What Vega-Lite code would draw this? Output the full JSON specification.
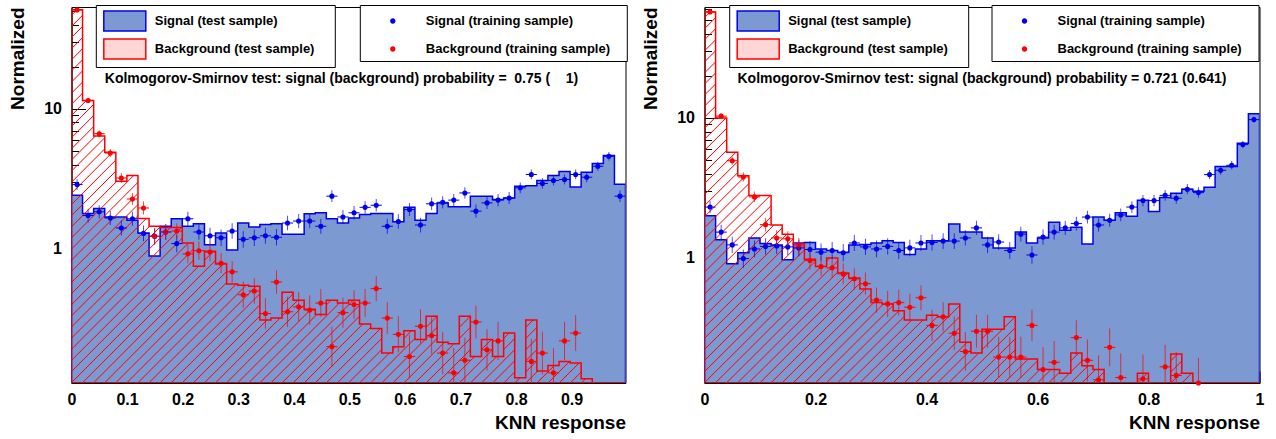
{
"$schema": "https://vega.github.io/schema/vega-lite/v6.json",
"background": "white",
"padding": {"left": 7.5, "top": 4, "right": 0, "bottom": 0},
"spacing": 12,
"datasets": {
"L": [
{"a":0,"b":0.0199,"c":0.01,"st":2.42,"bt":51.2,"sp":2.88,"bp":51},
{"a":0.0199,"b":0.0399,"c":0.0299,"st":1.79,"bt":11.5,"sp":1.73,"bp":11.5},
{"a":0.0399,"b":0.0598,"c":0.0499,"st":1.94,"bt":6.41,"sp":1.84,"bp":6.65},
{"a":0.0598,"b":0.0798,"c":0.0698,"st":1.69,"bt":4.9,"sp":1.66,"bp":4.84},
{"a":0.0798,"b":0.0997,"c":0.0897,"st":1.69,"bt":3.04,"sp":1.41,"bp":3.21},
{"a":0.0997,"b":0.1196,"c":0.1097,"st":1.6,"bt":3.34,"sp":1.64,"bp":2.27},
{"a":0.1196,"b":0.1396,"c":0.1296,"st":1.3,"bt":1.65,"sp":1.29,"bp":1.96},
{"a":0.1396,"b":0.1595,"c":0.1496,"st":0.89,"bt":1.45,"sp":1.23,"bp":1.23},
{"a":0.1595,"b":0.1795,"c":0.1695,"st":1.45,"bt":1.42,"sp":1.32,"bp":1.32},
{"a":0.1795,"b":0.1994,"c":0.1894,"st":1.64,"bt":1.42,"sp":1.09,"bp":1.34},
{"a":0.1994,"b":0.2193,"c":0.2094,"st":1.45,"bt":1.1,"sp":1.64,"bp":0.92},
{"a":0.2193,"b":0.2393,"c":0.2293,"st":1.51,"bt":0.75,"sp":1.32,"bp":0.97},
{"a":0.2393,"b":0.2592,"c":0.2493,"st":1.07,"bt":0.96,"sp":1.24,"bp":0.95},
{"a":0.2592,"b":0.2792,"c":0.2692,"st":1.3,"bt":0.78,"sp":1.2,"bp":0.79},
{"a":0.2792,"b":0.2991,"c":0.2891,"st":0.98,"bt":0.56,"sp":1.34,"bp":0.685},
{"a":0.2991,"b":0.319,"c":0.3091,"st":1.53,"bt":0.55,"sp":1.17,"bp":0.47},
{"a":0.319,"b":0.339,"c":0.329,"st":1.43,"bt":0.54,"sp":1.2,"bp":0.5},
{"a":0.339,"b":0.3589,"c":0.349,"st":1.49,"bt":0.31,"sp":1.24,"bp":0.345},
{"a":0.3589,"b":0.3789,"c":0.3689,"st":1.51,"bt":0.32,"sp":1.21,"bp":0.58},
{"a":0.3789,"b":0.3988,"c":0.3888,"st":1.27,"bt":0.49,"sp":1.53,"bp":0.355},
{"a":0.3988,"b":0.4187,"c":0.4088,"st":1.27,"bt":0.43,"sp":1.58,"bp":0.385},
{"a":0.4187,"b":0.4387,"c":0.4287,"st":1.78,"bt":0.37,"sp":1.58,"bp":0.365},
{"a":0.4387,"b":0.4586,"c":0.4487,"st":1.81,"bt":0.34,"sp":1.45,"bp":0.41},
{"a":0.4586,"b":0.4786,"c":0.4686,"st":1.64,"bt":0.43,"sp":2.38,"bp":0.2},
{"a":0.4786,"b":0.4985,"c":0.4885,"st":1.53,"bt":0.41,"sp":1.69,"bp":0.35},
{"a":0.4985,"b":0.5184,"c":0.5085,"st":1.66,"bt":0.43,"sp":1.81,"bp":0.4},
{"a":0.5184,"b":0.5384,"c":0.5284,"st":1.76,"bt":0.29,"sp":1.98,"bp":0.41},
{"a":0.5384,"b":0.5583,"c":0.5484,"st":1.79,"bt":0.27,"sp":2.05,"bp":0.52},
{"a":0.5583,"b":0.5783,"c":0.5683,"st":1.79,"bt":0.18,"sp":1.45,"bp":0.32},
{"a":0.5783,"b":0.5982,"c":0.5882,"st":1.56,"bt":0.2,"sp":1.57,"bp":0.245},
{"a":0.5982,"b":0.6181,"c":0.6082,"st":1.98,"bt":0.26,"sp":1.91,"bp":0.17},
{"a":0.6181,"b":0.6381,"c":0.6281,"st":1.6,"bt":0.225,"sp":1.48,"bp":0.28},
{"a":0.6381,"b":0.658,"c":0.6481,"st":1.79,"bt":0.33,"sp":2.1,"bp":0.24},
{"a":0.658,"b":0.678,"c":0.668,"st":2.13,"bt":0.215,"sp":2.15,"bp":0.18},
{"a":0.678,"b":0.6979,"c":0.6879,"st":2.0,"bt":0.21,"sp":2.23,"bp":0.13},
{"a":0.6979,"b":0.7178,"c":0.7079,"st":2.0,"bt":0.33,"sp":2.51,"bp":0.16},
{"a":0.7178,"b":0.7378,"c":0.7278,"st":2.38,"bt":0.17,"sp":1.86,"bp":0.3},
{"a":0.7378,"b":0.7577,"c":0.7478,"st":2.38,"bt":0.225,"sp":2.13,"bp":0.19},
{"a":0.7577,"b":0.7777,"c":0.7677,"st":2.25,"bt":0.17,"sp":2.23,"bp":0.22},
{"a":0.7777,"b":0.7976,"c":0.7876,"st":2.31,"bt":0.25,"sp":2.31,"bp":null},
{"a":0.7976,"b":0.8175,"c":0.8076,"st":2.8,"bt":0.12,"sp":2.73,"bp":null},
{"a":0.8175,"b":0.8375,"c":0.8275,"st":2.83,"bt":0.31,"sp":3.4,"bp":0.157},
{"a":0.8375,"b":0.8574,"c":0.8475,"st":3.08,"bt":0.134,"sp":2.93,"bp":0.18},
{"a":0.8574,"b":0.8774,"c":0.8674,"st":3.34,"bt":0.147,"sp":3.08,"bp":0.13},
{"a":0.8774,"b":0.8973,"c":0.8873,"st":3.57,"bt":0.157,"sp":3.13,"bp":0.22},
{"a":0.8973,"b":0.9172,"c":0.9073,"st":2.77,"bt":0.153,"sp":3.4,"bp":0.25},
{"a":0.9172,"b":0.9372,"c":0.9272,"st":3.53,"bt":0.118,"sp":3.25,"bp":null},
{"a":0.9372,"b":0.9571,"c":0.9472,"st":4.07,"bt":0.001,"sp":3.89,"bp":null},
{"a":0.9571,"b":0.9771,"c":0.9671,"st":4.64,"bt":0.001,"sp":4.59,"bp":null},
{"a":0.9771,"b":0.997,"c":0.987,"st":2.9,"bt":0.001,"sp":2.38,"bp":null},
{"a":0.997,"st":2.9,"bt":0.001}
],
"R": [
{"a":0,"b":0.02,"c":0.01,"st":2.0,"bt":57,"sp":2.31,"bp":57.2},
{"a":0.02,"b":0.04,"c":0.03,"st":1.35,"bt":10.0,"sp":1.53,"bp":10.3},
{"a":0.04,"b":0.06,"c":0.05,"st":0.91,"bt":5.69,"sp":1.24,"bp":4.95},
{"a":0.06,"b":0.08,"c":0.07,"st":1.09,"bt":3.87,"sp":0.99,"bp":3.79},
{"a":0.08,"b":0.1,"c":0.09,"st":1.39,"bt":2.79,"sp":1.16,"bp":2.73},
{"a":0.1,"b":0.12,"c":0.11,"st":1.27,"bt":2.79,"sp":1.21,"bp":1.73},
{"a":0.12,"b":0.14,"c":0.13,"st":1.24,"bt":1.72,"sp":1.22,"bp":1.39},
{"a":0.14,"b":0.16,"c":0.15,"st":0.97,"bt":1.48,"sp":1.2,"bp":1.37},
{"a":0.16,"b":0.18,"c":0.17,"st":1.28,"bt":1.26,"sp":1.18,"bp":1.22},
{"a":0.18,"b":0.2,"c":0.19,"st":1.29,"bt":0.98,"sp":1.15,"bp":0.96},
{"a":0.2,"b":0.22,"c":0.21,"st":1.16,"bt":0.87,"sp":1.1,"bp":0.87},
{"a":0.22,"b":0.24,"c":0.23,"st":1.13,"bt":1.0,"sp":1.13,"bp":0.85},
{"a":0.24,"b":0.26,"c":0.25,"st":1.1,"bt":0.78,"sp":1.09,"bp":0.77},
{"a":0.26,"b":0.28,"c":0.27,"st":1.24,"bt":0.72,"sp":1.28,"bp":0.71},
{"a":0.28,"b":0.3,"c":0.29,"st":1.25,"bt":0.6,"sp":1.2,"bp":0.655},
{"a":0.3,"b":0.32,"c":0.31,"st":1.28,"bt":0.48,"sp":1.16,"bp":0.5},
{"a":0.32,"b":0.34,"c":0.33,"st":1.33,"bt":0.47,"sp":1.21,"bp":0.47},
{"a":0.34,"b":0.36,"c":0.35,"st":1.29,"bt":0.42,"sp":1.13,"bp":0.48},
{"a":0.36,"b":0.38,"c":0.37,"st":1.06,"bt":0.36,"sp":1.18,"bp":0.445},
{"a":0.38,"b":0.4,"c":0.39,"st":1.16,"bt":0.36,"sp":1.28,"bp":0.52},
{"a":0.4,"b":0.42,"c":0.41,"st":1.33,"bt":0.39,"sp":1.29,"bp":0.33},
{"a":0.42,"b":0.44,"c":0.43,"st":1.33,"bt":0.38,"sp":1.32,"bp":0.38},
{"a":0.44,"b":0.46,"c":0.45,"st":1.75,"bt":0.47,"sp":1.32,"bp":0.29},
{"a":0.46,"b":0.48,"c":0.47,"st":1.53,"bt":0.25,"sp":1.39,"bp":0.215},
{"a":0.48,"b":0.5,"c":0.49,"st":1.53,"bt":0.21,"sp":1.64,"bp":0.3},
{"a":0.5,"b":0.52,"c":0.51,"st":1.39,"bt":0.31,"sp":1.24,"bp":0.3},
{"a":0.52,"b":0.54,"c":0.53,"st":1.18,"bt":0.31,"sp":1.3,"bp":0.196},
{"a":0.54,"b":0.56,"c":0.55,"st":1.18,"bt":0.38,"sp":1.13,"bp":0.196},
{"a":0.56,"b":0.58,"c":0.57,"st":1.53,"bt":0.19,"sp":1.48,"bp":0.196},
{"a":0.58,"b":0.6,"c":0.59,"st":1.28,"bt":0.19,"sp":1.05,"bp":0.33},
{"a":0.6,"b":0.62,"c":0.61,"st":1.39,"bt":0.16,"sp":1.41,"bp":0.16},
{"a":0.62,"b":0.64,"c":0.63,"st":1.8,"bt":0.16,"sp":1.53,"bp":0.18},
{"a":0.64,"b":0.66,"c":0.65,"st":1.58,"bt":0.15,"sp":1.64,"bp":null},
{"a":0.66,"b":0.68,"c":0.67,"st":1.66,"bt":0.21,"sp":1.76,"bp":0.27},
{"a":0.68,"b":0.7,"c":0.69,"st":1.26,"bt":0.17,"sp":1.96,"bp":0.186},
{"a":0.7,"b":0.72,"c":0.71,"st":1.96,"bt":0.16,"sp":1.72,"bp":0.135},
{"a":0.72,"b":0.74,"c":0.73,"st":1.86,"bt":0.001,"sp":1.86,"bp":0.23},
{"a":0.74,"b":0.76,"c":0.75,"st":2.1,"bt":0.001,"sp":2.03,"bp":0.14},
{"a":0.76,"b":0.78,"c":0.77,"st":1.99,"bt":0.001,"sp":2.31,"bp":null},
{"a":0.78,"b":0.8,"c":0.79,"st":2.58,"bt":0.15,"sp":2.57,"bp":0.137},
{"a":0.8,"b":0.82,"c":0.81,"st":2.15,"bt":0.001,"sp":2.57,"bp":null},
{"a":0.82,"b":0.84,"c":0.83,"st":2.7,"bt":0.001,"sp":2.8,"bp":0.167},
{"a":0.84,"b":0.86,"c":0.85,"st":2.9,"bt":0.206,"sp":2.67,"bp":0.145},
{"a":0.86,"b":0.88,"c":0.87,"st":3.1,"bt":0.15,"sp":3.1,"bp":null},
{"a":0.88,"b":0.9,"c":0.89,"st":3.0,"bt":0.001,"sp":2.93,"bp":0.128},
{"a":0.9,"b":0.92,"c":0.91,"st":3.2,"bt":0.001,"sp":3.94,"bp":null},
{"a":0.92,"b":0.94,"c":0.93,"st":4.5,"bt":0.001,"sp":4.23,"bp":null},
{"a":0.94,"b":0.96,"c":0.95,"st":4.5,"bt":0.001,"sp":4.59,"bp":null},
{"a":0.96,"b":0.98,"c":0.97,"st":6.6,"bt":0.001,"sp":6.45,"bp":null},
{"a":0.98,"b":1,"c":0.99,"st":10.7,"bt":0.001,"sp":9.73,"bp":null},
{"a":1,"st":10.7,"bt":0.001}
]
},
"hconcat": [
{
"data": {"name": "L"},
"width": 554, "height": 376,
"title": {"text": "Kolmogorov-Smirnov test: signal (background) probability = \u00a00.75 (\u00a0\u00a0\u00a0 1)", "dx": 33.3, "dy": 85.7},
"layer": [
{"mark": {"type": "area", "interpolate": "step-after", "fill": "#7d99d1", "stroke": "#0000ee", "strokeWidth": 1.5, "clip": true},
 "encoding": {
  "x": {"field": "a", "type": "quantitative", "scale": {"domain": [0, 0.997], "nice": false, "zero": false},
        "axis": {"values": [0,0.1,0.2,0.3,0.4,0.5,0.6,0.7,0.8,0.9], "format": "~g", "tickSize": -12, "labelPadding": 20, "title": "KNN response", "titleAnchor": "end", "titlePadding": 6, "orient": "bottom"}},
  "y": {"field": "st", "type": "quantitative", "scale": {"type": "log", "domain": [0.11, 53.5], "nice": false, "clamp": true},
        "axis": {"values": [1, 10], "format": "~g", "tickSize": -14, "labelPadding": 24, "title": "Normalized", "titleAnchor": "end", "titlePadding": 16.2, "orient": "left"}}
 }},
{"mark": {"type": "area", "interpolate": "step-after", "stroke": "#ff0000", "strokeWidth": 1.5, "clip": true,
  "fill": {"gradient": "linear", "x1": 0, "y1": 0, "x2": 1.15, "y2": 0.772, "stops": [
{"offset":0.0049,"color":"rgba(255,0,0,0)"},{"offset":0.006,"color":"#ff0000"},{"offset":0.0071,"color":"rgba(255,0,0,0)"},
{"offset":0.0169,"color":"rgba(255,0,0,0)"},{"offset":0.018,"color":"#ff0000"},{"offset":0.0191,"color":"rgba(255,0,0,0)"},
{"offset":0.0289,"color":"rgba(255,0,0,0)"},{"offset":0.03,"color":"#ff0000"},{"offset":0.0311,"color":"rgba(255,0,0,0)"},
{"offset":0.0409,"color":"rgba(255,0,0,0)"},{"offset":0.042,"color":"#ff0000"},{"offset":0.0431,"color":"rgba(255,0,0,0)"},
{"offset":0.0529,"color":"rgba(255,0,0,0)"},{"offset":0.054,"color":"#ff0000"},{"offset":0.0551,"color":"rgba(255,0,0,0)"},
{"offset":0.0649,"color":"rgba(255,0,0,0)"},{"offset":0.066,"color":"#ff0000"},{"offset":0.0671,"color":"rgba(255,0,0,0)"},
{"offset":0.0769,"color":"rgba(255,0,0,0)"},{"offset":0.078,"color":"#ff0000"},{"offset":0.0791,"color":"rgba(255,0,0,0)"},
{"offset":0.0889,"color":"rgba(255,0,0,0)"},{"offset":0.09,"color":"#ff0000"},{"offset":0.0911,"color":"rgba(255,0,0,0)"},
{"offset":0.1009,"color":"rgba(255,0,0,0)"},{"offset":0.102,"color":"#ff0000"},{"offset":0.1031,"color":"rgba(255,0,0,0)"},
{"offset":0.1129,"color":"rgba(255,0,0,0)"},{"offset":0.114,"color":"#ff0000"},{"offset":0.1151,"color":"rgba(255,0,0,0)"},
{"offset":0.1249,"color":"rgba(255,0,0,0)"},{"offset":0.126,"color":"#ff0000"},{"offset":0.1271,"color":"rgba(255,0,0,0)"},
{"offset":0.1369,"color":"rgba(255,0,0,0)"},{"offset":0.138,"color":"#ff0000"},{"offset":0.1391,"color":"rgba(255,0,0,0)"},
{"offset":0.1489,"color":"rgba(255,0,0,0)"},{"offset":0.15,"color":"#ff0000"},{"offset":0.1511,"color":"rgba(255,0,0,0)"},
{"offset":0.1609,"color":"rgba(255,0,0,0)"},{"offset":0.162,"color":"#ff0000"},{"offset":0.1631,"color":"rgba(255,0,0,0)"},
{"offset":0.1729,"color":"rgba(255,0,0,0)"},{"offset":0.174,"color":"#ff0000"},{"offset":0.1751,"color":"rgba(255,0,0,0)"},
{"offset":0.1849,"color":"rgba(255,0,0,0)"},{"offset":0.186,"color":"#ff0000"},{"offset":0.1871,"color":"rgba(255,0,0,0)"},
{"offset":0.1969,"color":"rgba(255,0,0,0)"},{"offset":0.198,"color":"#ff0000"},{"offset":0.1991,"color":"rgba(255,0,0,0)"},
{"offset":0.2089,"color":"rgba(255,0,0,0)"},{"offset":0.21,"color":"#ff0000"},{"offset":0.2111,"color":"rgba(255,0,0,0)"},
{"offset":0.2209,"color":"rgba(255,0,0,0)"},{"offset":0.222,"color":"#ff0000"},{"offset":0.2231,"color":"rgba(255,0,0,0)"},
{"offset":0.2329,"color":"rgba(255,0,0,0)"},{"offset":0.234,"color":"#ff0000"},{"offset":0.2351,"color":"rgba(255,0,0,0)"},
{"offset":0.2449,"color":"rgba(255,0,0,0)"},{"offset":0.246,"color":"#ff0000"},{"offset":0.2471,"color":"rgba(255,0,0,0)"},
{"offset":0.2569,"color":"rgba(255,0,0,0)"},{"offset":0.258,"color":"#ff0000"},{"offset":0.2591,"color":"rgba(255,0,0,0)"},
{"offset":0.2689,"color":"rgba(255,0,0,0)"},{"offset":0.27,"color":"#ff0000"},{"offset":0.2711,"color":"rgba(255,0,0,0)"},
{"offset":0.2809,"color":"rgba(255,0,0,0)"},{"offset":0.282,"color":"#ff0000"},{"offset":0.2831,"color":"rgba(255,0,0,0)"},
{"offset":0.2929,"color":"rgba(255,0,0,0)"},{"offset":0.294,"color":"#ff0000"},{"offset":0.2951,"color":"rgba(255,0,0,0)"},
{"offset":0.3049,"color":"rgba(255,0,0,0)"},{"offset":0.306,"color":"#ff0000"},{"offset":0.3071,"color":"rgba(255,0,0,0)"},
{"offset":0.3169,"color":"rgba(255,0,0,0)"},{"offset":0.318,"color":"#ff0000"},{"offset":0.3191,"color":"rgba(255,0,0,0)"},
{"offset":0.3289,"color":"rgba(255,0,0,0)"},{"offset":0.33,"color":"#ff0000"},{"offset":0.3311,"color":"rgba(255,0,0,0)"},
{"offset":0.3409,"color":"rgba(255,0,0,0)"},{"offset":0.342,"color":"#ff0000"},{"offset":0.3431,"color":"rgba(255,0,0,0)"},
{"offset":0.3529,"color":"rgba(255,0,0,0)"},{"offset":0.354,"color":"#ff0000"},{"offset":0.3551,"color":"rgba(255,0,0,0)"},
{"offset":0.3649,"color":"rgba(255,0,0,0)"},{"offset":0.366,"color":"#ff0000"},{"offset":0.3671,"color":"rgba(255,0,0,0)"},
{"offset":0.3769,"color":"rgba(255,0,0,0)"},{"offset":0.378,"color":"#ff0000"},{"offset":0.3791,"color":"rgba(255,0,0,0)"},
{"offset":0.3889,"color":"rgba(255,0,0,0)"},{"offset":0.39,"color":"#ff0000"},{"offset":0.3911,"color":"rgba(255,0,0,0)"},
{"offset":0.4009,"color":"rgba(255,0,0,0)"},{"offset":0.402,"color":"#ff0000"},{"offset":0.4031,"color":"rgba(255,0,0,0)"},
{"offset":0.4129,"color":"rgba(255,0,0,0)"},{"offset":0.414,"color":"#ff0000"},{"offset":0.4151,"color":"rgba(255,0,0,0)"},
{"offset":0.4249,"color":"rgba(255,0,0,0)"},{"offset":0.426,"color":"#ff0000"},{"offset":0.4271,"color":"rgba(255,0,0,0)"},
{"offset":0.4369,"color":"rgba(255,0,0,0)"},{"offset":0.438,"color":"#ff0000"},{"offset":0.4391,"color":"rgba(255,0,0,0)"},
{"offset":0.4489,"color":"rgba(255,0,0,0)"},{"offset":0.45,"color":"#ff0000"},{"offset":0.4511,"color":"rgba(255,0,0,0)"},
{"offset":0.4609,"color":"rgba(255,0,0,0)"},{"offset":0.462,"color":"#ff0000"},{"offset":0.4631,"color":"rgba(255,0,0,0)"},
{"offset":0.4729,"color":"rgba(255,0,0,0)"},{"offset":0.474,"color":"#ff0000"},{"offset":0.4751,"color":"rgba(255,0,0,0)"},
{"offset":0.4849,"color":"rgba(255,0,0,0)"},{"offset":0.486,"color":"#ff0000"},{"offset":0.4871,"color":"rgba(255,0,0,0)"},
{"offset":0.4969,"color":"rgba(255,0,0,0)"},{"offset":0.498,"color":"#ff0000"},{"offset":0.4991,"color":"rgba(255,0,0,0)"},
{"offset":0.5089,"color":"rgba(255,0,0,0)"},{"offset":0.51,"color":"#ff0000"},{"offset":0.5111,"color":"rgba(255,0,0,0)"},
{"offset":0.5209,"color":"rgba(255,0,0,0)"},{"offset":0.522,"color":"#ff0000"},{"offset":0.5231,"color":"rgba(255,0,0,0)"},
{"offset":0.5329,"color":"rgba(255,0,0,0)"},{"offset":0.534,"color":"#ff0000"},{"offset":0.5351,"color":"rgba(255,0,0,0)"},
{"offset":0.5449,"color":"rgba(255,0,0,0)"},{"offset":0.546,"color":"#ff0000"},{"offset":0.5471,"color":"rgba(255,0,0,0)"},
{"offset":0.5569,"color":"rgba(255,0,0,0)"},{"offset":0.558,"color":"#ff0000"},{"offset":0.5591,"color":"rgba(255,0,0,0)"},
{"offset":0.5689,"color":"rgba(255,0,0,0)"},{"offset":0.57,"color":"#ff0000"},{"offset":0.5711,"color":"rgba(255,0,0,0)"},
{"offset":0.5809,"color":"rgba(255,0,0,0)"},{"offset":0.582,"color":"#ff0000"},{"offset":0.5831,"color":"rgba(255,0,0,0)"},
{"offset":0.5929,"color":"rgba(255,0,0,0)"},{"offset":0.594,"color":"#ff0000"},{"offset":0.5951,"color":"rgba(255,0,0,0)"},
{"offset":0.6049,"color":"rgba(255,0,0,0)"},{"offset":0.606,"color":"#ff0000"},{"offset":0.6071,"color":"rgba(255,0,0,0)"},
{"offset":0.6169,"color":"rgba(255,0,0,0)"},{"offset":0.618,"color":"#ff0000"},{"offset":0.6191,"color":"rgba(255,0,0,0)"},
{"offset":0.6289,"color":"rgba(255,0,0,0)"},{"offset":0.63,"color":"#ff0000"},{"offset":0.6311,"color":"rgba(255,0,0,0)"},
{"offset":0.6409,"color":"rgba(255,0,0,0)"},{"offset":0.642,"color":"#ff0000"},{"offset":0.6431,"color":"rgba(255,0,0,0)"},
{"offset":0.6529,"color":"rgba(255,0,0,0)"},{"offset":0.654,"color":"#ff0000"},{"offset":0.6551,"color":"rgba(255,0,0,0)"},
{"offset":0.6649,"color":"rgba(255,0,0,0)"},{"offset":0.666,"color":"#ff0000"},{"offset":0.6671,"color":"rgba(255,0,0,0)"},
{"offset":0.6769,"color":"rgba(255,0,0,0)"},{"offset":0.678,"color":"#ff0000"},{"offset":0.6791,"color":"rgba(255,0,0,0)"},
{"offset":0.6889,"color":"rgba(255,0,0,0)"},{"offset":0.69,"color":"#ff0000"},{"offset":0.6911,"color":"rgba(255,0,0,0)"},
{"offset":0.7009,"color":"rgba(255,0,0,0)"},{"offset":0.702,"color":"#ff0000"},{"offset":0.7031,"color":"rgba(255,0,0,0)"},
{"offset":0.7129,"color":"rgba(255,0,0,0)"},{"offset":0.714,"color":"#ff0000"},{"offset":0.7151,"color":"rgba(255,0,0,0)"},
{"offset":0.7249,"color":"rgba(255,0,0,0)"},{"offset":0.726,"color":"#ff0000"},{"offset":0.7271,"color":"rgba(255,0,0,0)"},
{"offset":0.7369,"color":"rgba(255,0,0,0)"},{"offset":0.738,"color":"#ff0000"},{"offset":0.7391,"color":"rgba(255,0,0,0)"},
{"offset":0.7489,"color":"rgba(255,0,0,0)"},{"offset":0.75,"color":"#ff0000"},{"offset":0.7511,"color":"rgba(255,0,0,0)"},
{"offset":0.7609,"color":"rgba(255,0,0,0)"},{"offset":0.762,"color":"#ff0000"},{"offset":0.7631,"color":"rgba(255,0,0,0)"},
{"offset":0.7729,"color":"rgba(255,0,0,0)"},{"offset":0.774,"color":"#ff0000"},{"offset":0.7751,"color":"rgba(255,0,0,0)"},
{"offset":0.7849,"color":"rgba(255,0,0,0)"},{"offset":0.786,"color":"#ff0000"},{"offset":0.7871,"color":"rgba(255,0,0,0)"},
{"offset":0.7969,"color":"rgba(255,0,0,0)"},{"offset":0.798,"color":"#ff0000"},{"offset":0.7991,"color":"rgba(255,0,0,0)"},
{"offset":0.8089,"color":"rgba(255,0,0,0)"},{"offset":0.81,"color":"#ff0000"},{"offset":0.8111,"color":"rgba(255,0,0,0)"},
{"offset":0.8209,"color":"rgba(255,0,0,0)"},{"offset":0.822,"color":"#ff0000"},{"offset":0.8231,"color":"rgba(255,0,0,0)"},
{"offset":0.8329,"color":"rgba(255,0,0,0)"},{"offset":0.834,"color":"#ff0000"},{"offset":0.8351,"color":"rgba(255,0,0,0)"},
{"offset":0.8449,"color":"rgba(255,0,0,0)"},{"offset":0.846,"color":"#ff0000"},{"offset":0.8471,"color":"rgba(255,0,0,0)"},
{"offset":0.8569,"color":"rgba(255,0,0,0)"},{"offset":0.858,"color":"#ff0000"},{"offset":0.8591,"color":"rgba(255,0,0,0)"},
{"offset":0.8689,"color":"rgba(255,0,0,0)"},{"offset":0.87,"color":"#ff0000"},{"offset":0.8711,"color":"rgba(255,0,0,0)"},
{"offset":0.8809,"color":"rgba(255,0,0,0)"},{"offset":0.882,"color":"#ff0000"},{"offset":0.8831,"color":"rgba(255,0,0,0)"},
{"offset":0.8929,"color":"rgba(255,0,0,0)"},{"offset":0.894,"color":"#ff0000"},{"offset":0.8951,"color":"rgba(255,0,0,0)"},
{"offset":0.9049,"color":"rgba(255,0,0,0)"},{"offset":0.906,"color":"#ff0000"},{"offset":0.9071,"color":"rgba(255,0,0,0)"},
{"offset":0.9169,"color":"rgba(255,0,0,0)"},{"offset":0.918,"color":"#ff0000"},{"offset":0.9191,"color":"rgba(255,0,0,0)"},
{"offset":0.9289,"color":"rgba(255,0,0,0)"},{"offset":0.93,"color":"#ff0000"},{"offset":0.9311,"color":"rgba(255,0,0,0)"},
{"offset":0.9409,"color":"rgba(255,0,0,0)"},{"offset":0.942,"color":"#ff0000"},{"offset":0.9431,"color":"rgba(255,0,0,0)"},
{"offset":0.9529,"color":"rgba(255,0,0,0)"},{"offset":0.954,"color":"#ff0000"},{"offset":0.9551,"color":"rgba(255,0,0,0)"},
{"offset":0.9649,"color":"rgba(255,0,0,0)"},{"offset":0.966,"color":"#ff0000"},{"offset":0.9671,"color":"rgba(255,0,0,0)"},
{"offset":0.9769,"color":"rgba(255,0,0,0)"},{"offset":0.978,"color":"#ff0000"},{"offset":0.9791,"color":"rgba(255,0,0,0)"},
{"offset":0.9889,"color":"rgba(255,0,0,0)"},{"offset":0.99,"color":"#ff0000"},{"offset":0.9911,"color":"rgba(255,0,0,0)"}
]}},
 "encoding": {
  "x": {"field": "a", "type": "quantitative", "axis": {"values": [0.02,0.04,0.06,0.08,0.1,0.12,0.14,0.16,0.18,0.2,0.22,0.24,0.26,0.28,0.3,0.32,0.34,0.36,0.38,0.4,0.42,0.44,0.46,0.48,0.5,0.52,0.54,0.56,0.58,0.6,0.62,0.64,0.66,0.68,0.7,0.72,0.74,0.76,0.78,0.8,0.82,0.84,0.86,0.88,0.9,0.92,0.94,0.96,0.98], "tickSize": -6, "labels": false, "domain": false, "title": null, "orient": "bottom"}},
  "y": {"field": "bt", "type": "quantitative", "axis": {"values": [0.2,0.3,0.4,0.5,0.6,0.7,0.8,0.9,2,3,4,5,6,7,8,9,20,30,40,50], "tickSize": -7, "labels": false, "domain": false, "title": null, "orient": "left"}}
 }},
{"transform": [{"filter": "false"}],
 "mark": {"type": "area"},
 "encoding": {
  "x": {"field": "a", "type": "quantitative", "axis": null},
  "y": {"field": "st", "type": "quantitative", "axis": null},
  "fill": {"datum": "Signal (test sample)", "type": "nominal",
           "scale": {"domain": ["Signal (test sample)", "Background (test sample)"], "range": ["#7d99d1", "#ffd6d6"]},
           "legend": {"title": null, "orient": "none", "legendX": 24.3, "legendY": -2, "symbolType": "M-2.1,-1H2.1V1H-2.1Z", "symbolSize": 400, "symbolStrokeWidth": 1.5, "symbolOpacity": 1, "symbolOffset": 13, "labelOffset": 19, "rowPadding": 2, "labelExpr": "datum.label + '\u00a0\u00a0\u00a0\u00a0\u200b'"}},
  "stroke": {"datum": "Signal (test sample)", "type": "nominal",
           "scale": {"domain": ["Signal (test sample)", "Background (test sample)"], "range": ["#0000ee", "#ff0000"]},
           "legend": {"title": null, "orient": "none", "legendX": 24.3, "legendY": -2, "symbolType": "M-2.1,-1H2.1V1H-2.1Z", "symbolSize": 400, "symbolStrokeWidth": 1.5, "symbolOpacity": 1, "symbolOffset": 13, "labelOffset": 19, "rowPadding": 2, "labelExpr": "datum.label + '\u00a0\u00a0\u00a0\u00a0\u200b'"}}
 }},
{"transform": [{"fold": ["sp", "bp"], "as": ["k", "v"]}],
 "mark": {"type": "point", "filled": true, "shape": "circle", "size": 26, "opacity": 1},
 "encoding": {
  "x": {"field": "c", "type": "quantitative", "axis": null},
  "y": {"field": "v", "type": "quantitative", "axis": null},
  "color": {"field": "k", "type": "nominal", "scale": {"domain": ["sp", "bp"], "range": ["#0000ee", "#ff0000"]},
            "legend": {"title": null, "orient": "none", "legendX": 288.3, "legendY": -2, "symbolType": "M-0.245,0A0.245,0.245,0,1,0,0.245,0A0.245,0.245,0,1,0,-0.245,0Z", "symbolSize": 484, "symbolStrokeWidth": 0, "symbolOpacity": 1, "symbolOffset": 17, "labelOffset": 22, "rowPadding": 10, "labelExpr": "(datum.value == 'sp' ? 'Signal (training sample)' : 'Background (training sample)') + '\u00a0\u00a0\u00a0\u200b'"}}
 }},
{"transform": [{"fold": ["sp", "bp"], "as": ["k", "v"]}],
 "mark": {"type": "rule", "strokeWidth": 1, "clip": true},
 "encoding": {
  "x": {"field": "a", "type": "quantitative", "axis": null},
  "x2": {"field": "b"},
  "y": {"field": "v", "type": "quantitative", "axis": null},
  "color": {"condition": {"test": "datum.k == 'sp'", "value": "#0000ee"}, "value": "#ff0000"}
 }},
{"transform": [{"fold": ["sp", "bp"], "as": ["k", "v"]}],
 "mark": {"type": "tick", "orient": "vertical", "thickness": 1, "clip": true},
 "encoding": {
  "x": {"field": "c", "type": "quantitative", "axis": null},
  "y": {"field": "v", "type": "quantitative", "axis": null},
  "size": {"field": "v", "type": "quantitative", "scale": {"type": "pow", "exponent": -0.5, "domain": [1, 100], "range": [18, 1.8], "zero": false}, "legend": null},
  "color": {"condition": {"test": "datum.k == 'sp'", "value": "#0000ee"}, "value": "#ff0000"}
 }}
],
"resolve": {"axis": {"x": "independent", "y": "independent"}}
},
{
"data": {"name": "R"},
"width": 555, "height": 376,
"title": {"text": "Kolmogorov-Smirnov test: signal (background) probability = 0.721 (0.641)", "dx": 33, "dy": 85.7},
"layer": [
{"mark": {"type": "area", "interpolate": "step-after", "fill": "#7d99d1", "stroke": "#0000ee", "strokeWidth": 1.5, "clip": true},
 "encoding": {
  "x": {"field": "a", "type": "quantitative", "scale": {"domain": [0, 1], "nice": false, "zero": false},
        "axis": {"values": [0,0.2,0.4,0.6,0.8,1], "format": "~g", "tickSize": -12, "labelPadding": 20, "title": "KNN response", "titleAnchor": "end", "titlePadding": 6, "orient": "bottom"}},
  "y": {"field": "st", "type": "quantitative", "scale": {"type": "log", "domain": [0.128, 62], "nice": false, "clamp": true},
        "axis": {"values": [1, 10], "format": "~g", "tickSize": -14, "labelPadding": 24, "title": "Normalized", "titleAnchor": "end", "titlePadding": 16.2, "orient": "left"}}
 }},
{"mark": {"type": "area", "interpolate": "step-after", "stroke": "#ff0000", "strokeWidth": 1.5, "clip": true,
  "fill": {"gradient": "linear", "x1": 0, "y1": 0, "x2": 1.15, "y2": 0.772, "stops": [
{"offset":0.0049,"color":"rgba(255,0,0,0)"},{"offset":0.006,"color":"#ff0000"},{"offset":0.0071,"color":"rgba(255,0,0,0)"},
{"offset":0.0169,"color":"rgba(255,0,0,0)"},{"offset":0.018,"color":"#ff0000"},{"offset":0.0191,"color":"rgba(255,0,0,0)"},
{"offset":0.0289,"color":"rgba(255,0,0,0)"},{"offset":0.03,"color":"#ff0000"},{"offset":0.0311,"color":"rgba(255,0,0,0)"},
{"offset":0.0409,"color":"rgba(255,0,0,0)"},{"offset":0.042,"color":"#ff0000"},{"offset":0.0431,"color":"rgba(255,0,0,0)"},
{"offset":0.0529,"color":"rgba(255,0,0,0)"},{"offset":0.054,"color":"#ff0000"},{"offset":0.0551,"color":"rgba(255,0,0,0)"},
{"offset":0.0649,"color":"rgba(255,0,0,0)"},{"offset":0.066,"color":"#ff0000"},{"offset":0.0671,"color":"rgba(255,0,0,0)"},
{"offset":0.0769,"color":"rgba(255,0,0,0)"},{"offset":0.078,"color":"#ff0000"},{"offset":0.0791,"color":"rgba(255,0,0,0)"},
{"offset":0.0889,"color":"rgba(255,0,0,0)"},{"offset":0.09,"color":"#ff0000"},{"offset":0.0911,"color":"rgba(255,0,0,0)"},
{"offset":0.1009,"color":"rgba(255,0,0,0)"},{"offset":0.102,"color":"#ff0000"},{"offset":0.1031,"color":"rgba(255,0,0,0)"},
{"offset":0.1129,"color":"rgba(255,0,0,0)"},{"offset":0.114,"color":"#ff0000"},{"offset":0.1151,"color":"rgba(255,0,0,0)"},
{"offset":0.1249,"color":"rgba(255,0,0,0)"},{"offset":0.126,"color":"#ff0000"},{"offset":0.1271,"color":"rgba(255,0,0,0)"},
{"offset":0.1369,"color":"rgba(255,0,0,0)"},{"offset":0.138,"color":"#ff0000"},{"offset":0.1391,"color":"rgba(255,0,0,0)"},
{"offset":0.1489,"color":"rgba(255,0,0,0)"},{"offset":0.15,"color":"#ff0000"},{"offset":0.1511,"color":"rgba(255,0,0,0)"},
{"offset":0.1609,"color":"rgba(255,0,0,0)"},{"offset":0.162,"color":"#ff0000"},{"offset":0.1631,"color":"rgba(255,0,0,0)"},
{"offset":0.1729,"color":"rgba(255,0,0,0)"},{"offset":0.174,"color":"#ff0000"},{"offset":0.1751,"color":"rgba(255,0,0,0)"},
{"offset":0.1849,"color":"rgba(255,0,0,0)"},{"offset":0.186,"color":"#ff0000"},{"offset":0.1871,"color":"rgba(255,0,0,0)"},
{"offset":0.1969,"color":"rgba(255,0,0,0)"},{"offset":0.198,"color":"#ff0000"},{"offset":0.1991,"color":"rgba(255,0,0,0)"},
{"offset":0.2089,"color":"rgba(255,0,0,0)"},{"offset":0.21,"color":"#ff0000"},{"offset":0.2111,"color":"rgba(255,0,0,0)"},
{"offset":0.2209,"color":"rgba(255,0,0,0)"},{"offset":0.222,"color":"#ff0000"},{"offset":0.2231,"color":"rgba(255,0,0,0)"},
{"offset":0.2329,"color":"rgba(255,0,0,0)"},{"offset":0.234,"color":"#ff0000"},{"offset":0.2351,"color":"rgba(255,0,0,0)"},
{"offset":0.2449,"color":"rgba(255,0,0,0)"},{"offset":0.246,"color":"#ff0000"},{"offset":0.2471,"color":"rgba(255,0,0,0)"},
{"offset":0.2569,"color":"rgba(255,0,0,0)"},{"offset":0.258,"color":"#ff0000"},{"offset":0.2591,"color":"rgba(255,0,0,0)"},
{"offset":0.2689,"color":"rgba(255,0,0,0)"},{"offset":0.27,"color":"#ff0000"},{"offset":0.2711,"color":"rgba(255,0,0,0)"},
{"offset":0.2809,"color":"rgba(255,0,0,0)"},{"offset":0.282,"color":"#ff0000"},{"offset":0.2831,"color":"rgba(255,0,0,0)"},
{"offset":0.2929,"color":"rgba(255,0,0,0)"},{"offset":0.294,"color":"#ff0000"},{"offset":0.2951,"color":"rgba(255,0,0,0)"},
{"offset":0.3049,"color":"rgba(255,0,0,0)"},{"offset":0.306,"color":"#ff0000"},{"offset":0.3071,"color":"rgba(255,0,0,0)"},
{"offset":0.3169,"color":"rgba(255,0,0,0)"},{"offset":0.318,"color":"#ff0000"},{"offset":0.3191,"color":"rgba(255,0,0,0)"},
{"offset":0.3289,"color":"rgba(255,0,0,0)"},{"offset":0.33,"color":"#ff0000"},{"offset":0.3311,"color":"rgba(255,0,0,0)"},
{"offset":0.3409,"color":"rgba(255,0,0,0)"},{"offset":0.342,"color":"#ff0000"},{"offset":0.3431,"color":"rgba(255,0,0,0)"},
{"offset":0.3529,"color":"rgba(255,0,0,0)"},{"offset":0.354,"color":"#ff0000"},{"offset":0.3551,"color":"rgba(255,0,0,0)"},
{"offset":0.3649,"color":"rgba(255,0,0,0)"},{"offset":0.366,"color":"#ff0000"},{"offset":0.3671,"color":"rgba(255,0,0,0)"},
{"offset":0.3769,"color":"rgba(255,0,0,0)"},{"offset":0.378,"color":"#ff0000"},{"offset":0.3791,"color":"rgba(255,0,0,0)"},
{"offset":0.3889,"color":"rgba(255,0,0,0)"},{"offset":0.39,"color":"#ff0000"},{"offset":0.3911,"color":"rgba(255,0,0,0)"},
{"offset":0.4009,"color":"rgba(255,0,0,0)"},{"offset":0.402,"color":"#ff0000"},{"offset":0.4031,"color":"rgba(255,0,0,0)"},
{"offset":0.4129,"color":"rgba(255,0,0,0)"},{"offset":0.414,"color":"#ff0000"},{"offset":0.4151,"color":"rgba(255,0,0,0)"},
{"offset":0.4249,"color":"rgba(255,0,0,0)"},{"offset":0.426,"color":"#ff0000"},{"offset":0.4271,"color":"rgba(255,0,0,0)"},
{"offset":0.4369,"color":"rgba(255,0,0,0)"},{"offset":0.438,"color":"#ff0000"},{"offset":0.4391,"color":"rgba(255,0,0,0)"},
{"offset":0.4489,"color":"rgba(255,0,0,0)"},{"offset":0.45,"color":"#ff0000"},{"offset":0.4511,"color":"rgba(255,0,0,0)"},
{"offset":0.4609,"color":"rgba(255,0,0,0)"},{"offset":0.462,"color":"#ff0000"},{"offset":0.4631,"color":"rgba(255,0,0,0)"},
{"offset":0.4729,"color":"rgba(255,0,0,0)"},{"offset":0.474,"color":"#ff0000"},{"offset":0.4751,"color":"rgba(255,0,0,0)"},
{"offset":0.4849,"color":"rgba(255,0,0,0)"},{"offset":0.486,"color":"#ff0000"},{"offset":0.4871,"color":"rgba(255,0,0,0)"},
{"offset":0.4969,"color":"rgba(255,0,0,0)"},{"offset":0.498,"color":"#ff0000"},{"offset":0.4991,"color":"rgba(255,0,0,0)"},
{"offset":0.5089,"color":"rgba(255,0,0,0)"},{"offset":0.51,"color":"#ff0000"},{"offset":0.5111,"color":"rgba(255,0,0,0)"},
{"offset":0.5209,"color":"rgba(255,0,0,0)"},{"offset":0.522,"color":"#ff0000"},{"offset":0.5231,"color":"rgba(255,0,0,0)"},
{"offset":0.5329,"color":"rgba(255,0,0,0)"},{"offset":0.534,"color":"#ff0000"},{"offset":0.5351,"color":"rgba(255,0,0,0)"},
{"offset":0.5449,"color":"rgba(255,0,0,0)"},{"offset":0.546,"color":"#ff0000"},{"offset":0.5471,"color":"rgba(255,0,0,0)"},
{"offset":0.5569,"color":"rgba(255,0,0,0)"},{"offset":0.558,"color":"#ff0000"},{"offset":0.5591,"color":"rgba(255,0,0,0)"},
{"offset":0.5689,"color":"rgba(255,0,0,0)"},{"offset":0.57,"color":"#ff0000"},{"offset":0.5711,"color":"rgba(255,0,0,0)"},
{"offset":0.5809,"color":"rgba(255,0,0,0)"},{"offset":0.582,"color":"#ff0000"},{"offset":0.5831,"color":"rgba(255,0,0,0)"},
{"offset":0.5929,"color":"rgba(255,0,0,0)"},{"offset":0.594,"color":"#ff0000"},{"offset":0.5951,"color":"rgba(255,0,0,0)"},
{"offset":0.6049,"color":"rgba(255,0,0,0)"},{"offset":0.606,"color":"#ff0000"},{"offset":0.6071,"color":"rgba(255,0,0,0)"},
{"offset":0.6169,"color":"rgba(255,0,0,0)"},{"offset":0.618,"color":"#ff0000"},{"offset":0.6191,"color":"rgba(255,0,0,0)"},
{"offset":0.6289,"color":"rgba(255,0,0,0)"},{"offset":0.63,"color":"#ff0000"},{"offset":0.6311,"color":"rgba(255,0,0,0)"},
{"offset":0.6409,"color":"rgba(255,0,0,0)"},{"offset":0.642,"color":"#ff0000"},{"offset":0.6431,"color":"rgba(255,0,0,0)"},
{"offset":0.6529,"color":"rgba(255,0,0,0)"},{"offset":0.654,"color":"#ff0000"},{"offset":0.6551,"color":"rgba(255,0,0,0)"},
{"offset":0.6649,"color":"rgba(255,0,0,0)"},{"offset":0.666,"color":"#ff0000"},{"offset":0.6671,"color":"rgba(255,0,0,0)"},
{"offset":0.6769,"color":"rgba(255,0,0,0)"},{"offset":0.678,"color":"#ff0000"},{"offset":0.6791,"color":"rgba(255,0,0,0)"},
{"offset":0.6889,"color":"rgba(255,0,0,0)"},{"offset":0.69,"color":"#ff0000"},{"offset":0.6911,"color":"rgba(255,0,0,0)"},
{"offset":0.7009,"color":"rgba(255,0,0,0)"},{"offset":0.702,"color":"#ff0000"},{"offset":0.7031,"color":"rgba(255,0,0,0)"},
{"offset":0.7129,"color":"rgba(255,0,0,0)"},{"offset":0.714,"color":"#ff0000"},{"offset":0.7151,"color":"rgba(255,0,0,0)"},
{"offset":0.7249,"color":"rgba(255,0,0,0)"},{"offset":0.726,"color":"#ff0000"},{"offset":0.7271,"color":"rgba(255,0,0,0)"},
{"offset":0.7369,"color":"rgba(255,0,0,0)"},{"offset":0.738,"color":"#ff0000"},{"offset":0.7391,"color":"rgba(255,0,0,0)"},
{"offset":0.7489,"color":"rgba(255,0,0,0)"},{"offset":0.75,"color":"#ff0000"},{"offset":0.7511,"color":"rgba(255,0,0,0)"},
{"offset":0.7609,"color":"rgba(255,0,0,0)"},{"offset":0.762,"color":"#ff0000"},{"offset":0.7631,"color":"rgba(255,0,0,0)"},
{"offset":0.7729,"color":"rgba(255,0,0,0)"},{"offset":0.774,"color":"#ff0000"},{"offset":0.7751,"color":"rgba(255,0,0,0)"},
{"offset":0.7849,"color":"rgba(255,0,0,0)"},{"offset":0.786,"color":"#ff0000"},{"offset":0.7871,"color":"rgba(255,0,0,0)"},
{"offset":0.7969,"color":"rgba(255,0,0,0)"},{"offset":0.798,"color":"#ff0000"},{"offset":0.7991,"color":"rgba(255,0,0,0)"},
{"offset":0.8089,"color":"rgba(255,0,0,0)"},{"offset":0.81,"color":"#ff0000"},{"offset":0.8111,"color":"rgba(255,0,0,0)"},
{"offset":0.8209,"color":"rgba(255,0,0,0)"},{"offset":0.822,"color":"#ff0000"},{"offset":0.8231,"color":"rgba(255,0,0,0)"},
{"offset":0.8329,"color":"rgba(255,0,0,0)"},{"offset":0.834,"color":"#ff0000"},{"offset":0.8351,"color":"rgba(255,0,0,0)"},
{"offset":0.8449,"color":"rgba(255,0,0,0)"},{"offset":0.846,"color":"#ff0000"},{"offset":0.8471,"color":"rgba(255,0,0,0)"},
{"offset":0.8569,"color":"rgba(255,0,0,0)"},{"offset":0.858,"color":"#ff0000"},{"offset":0.8591,"color":"rgba(255,0,0,0)"},
{"offset":0.8689,"color":"rgba(255,0,0,0)"},{"offset":0.87,"color":"#ff0000"},{"offset":0.8711,"color":"rgba(255,0,0,0)"},
{"offset":0.8809,"color":"rgba(255,0,0,0)"},{"offset":0.882,"color":"#ff0000"},{"offset":0.8831,"color":"rgba(255,0,0,0)"},
{"offset":0.8929,"color":"rgba(255,0,0,0)"},{"offset":0.894,"color":"#ff0000"},{"offset":0.8951,"color":"rgba(255,0,0,0)"},
{"offset":0.9049,"color":"rgba(255,0,0,0)"},{"offset":0.906,"color":"#ff0000"},{"offset":0.9071,"color":"rgba(255,0,0,0)"},
{"offset":0.9169,"color":"rgba(255,0,0,0)"},{"offset":0.918,"color":"#ff0000"},{"offset":0.9191,"color":"rgba(255,0,0,0)"},
{"offset":0.9289,"color":"rgba(255,0,0,0)"},{"offset":0.93,"color":"#ff0000"},{"offset":0.9311,"color":"rgba(255,0,0,0)"},
{"offset":0.9409,"color":"rgba(255,0,0,0)"},{"offset":0.942,"color":"#ff0000"},{"offset":0.9431,"color":"rgba(255,0,0,0)"},
{"offset":0.9529,"color":"rgba(255,0,0,0)"},{"offset":0.954,"color":"#ff0000"},{"offset":0.9551,"color":"rgba(255,0,0,0)"},
{"offset":0.9649,"color":"rgba(255,0,0,0)"},{"offset":0.966,"color":"#ff0000"},{"offset":0.9671,"color":"rgba(255,0,0,0)"},
{"offset":0.9769,"color":"rgba(255,0,0,0)"},{"offset":0.978,"color":"#ff0000"},{"offset":0.9791,"color":"rgba(255,0,0,0)"},
{"offset":0.9889,"color":"rgba(255,0,0,0)"},{"offset":0.99,"color":"#ff0000"},{"offset":0.9911,"color":"rgba(255,0,0,0)"}
]}},
 "encoding": {
  "x": {"field": "a", "type": "quantitative", "axis": {"values": [0.05,0.1,0.15,0.2,0.25,0.3,0.35,0.4,0.45,0.5,0.55,0.6,0.65,0.7,0.75,0.8,0.85,0.9,0.95], "tickSize": -6, "labels": false, "domain": false, "title": null, "orient": "bottom"}},
  "y": {"field": "bt", "type": "quantitative", "axis": {"values": [0.2,0.3,0.4,0.5,0.6,0.7,0.8,0.9,2,3,4,5,6,7,8,9,20,30,40,50,60], "tickSize": -7, "labels": false, "domain": false, "title": null, "orient": "left"}}
 }},
{"transform": [{"filter": "false"}],
 "mark": {"type": "area"},
 "encoding": {
  "x": {"field": "a", "type": "quantitative", "axis": null},
  "y": {"field": "st", "type": "quantitative", "axis": null},
  "fill": {"datum": "Signal (test sample)", "type": "nominal",
           "scale": {"domain": ["Signal (test sample)", "Background (test sample)"], "range": ["#7d99d1", "#ffd6d6"]},
           "legend": {"title": null, "orient": "none", "legendX": 24.7, "legendY": -2, "symbolType": "M-2.1,-1H2.1V1H-2.1Z", "symbolSize": 400, "symbolStrokeWidth": 1.5, "symbolOpacity": 1, "symbolOffset": 13, "labelOffset": 19, "rowPadding": 2, "labelExpr": "datum.label + '\u00a0\u00a0\u00a0\u00a0\u200b'"}},
  "stroke": {"datum": "Signal (test sample)", "type": "nominal",
           "scale": {"domain": ["Signal (test sample)", "Background (test sample)"], "range": ["#0000ee", "#ff0000"]},
           "legend": {"title": null, "orient": "none", "legendX": 24.7, "legendY": -2, "symbolType": "M-2.1,-1H2.1V1H-2.1Z", "symbolSize": 400, "symbolStrokeWidth": 1.5, "symbolOpacity": 1, "symbolOffset": 13, "labelOffset": 19, "rowPadding": 2, "labelExpr": "datum.label + '\u00a0\u00a0\u00a0\u00a0\u200b'"}}
 }},
{"transform": [{"fold": ["sp", "bp"], "as": ["k", "v"]}],
 "mark": {"type": "point", "filled": true, "shape": "circle", "size": 26, "opacity": 1},
 "encoding": {
  "x": {"field": "c", "type": "quantitative", "axis": null},
  "y": {"field": "v", "type": "quantitative", "axis": null},
  "color": {"field": "k", "type": "nominal", "scale": {"domain": ["sp", "bp"], "range": ["#0000ee", "#ff0000"]},
            "legend": {"title": null, "orient": "none", "legendX": 287, "legendY": -2, "symbolType": "M-0.245,0A0.245,0.245,0,1,0,0.245,0A0.245,0.245,0,1,0,-0.245,0Z", "symbolSize": 484, "symbolStrokeWidth": 0, "symbolOpacity": 1, "symbolOffset": 17, "labelOffset": 22, "rowPadding": 10, "labelExpr": "(datum.value == 'sp' ? 'Signal (training sample)' : 'Background (training sample)') + '\u00a0\u00a0\u00a0\u200b'"}}
 }},
{"transform": [{"fold": ["sp", "bp"], "as": ["k", "v"]}],
 "mark": {"type": "rule", "strokeWidth": 1, "clip": true},
 "encoding": {
  "x": {"field": "a", "type": "quantitative", "axis": null},
  "x2": {"field": "b"},
  "y": {"field": "v", "type": "quantitative", "axis": null},
  "color": {"condition": {"test": "datum.k == 'sp'", "value": "#0000ee"}, "value": "#ff0000"}
 }},
{"transform": [{"fold": ["sp", "bp"], "as": ["k", "v"]}],
 "mark": {"type": "tick", "orient": "vertical", "thickness": 1, "clip": true},
 "encoding": {
  "x": {"field": "c", "type": "quantitative", "axis": null},
  "y": {"field": "v", "type": "quantitative", "axis": null},
  "size": {"field": "v", "type": "quantitative", "scale": {"type": "pow", "exponent": -0.5, "domain": [1, 100], "range": [18, 1.8], "zero": false}, "legend": null},
  "color": {"condition": {"test": "datum.k == 'sp'", "value": "#0000ee"}, "value": "#ff0000"}
 }}
],
"resolve": {"axis": {"x": "independent", "y": "independent"}}
}
],
"resolve": {"scale": {"x": "independent", "y": "independent", "color": "independent", "fill": "independent", "stroke": "independent", "size": "independent"}},
"config": {
 "font": "Liberation Sans",
 "view": {"stroke": "black", "strokeWidth": 1},
 "axis": {"grid": false, "labelFont": "Liberation Sans", "labelFontWeight": "bold", "labelFontSize": 16, "labelColor": "black", "titleFont": "Liberation Sans", "titleFontWeight": "bold", "titleFontSize": 19, "titleColor": "black", "domainColor": "black", "tickColor": "black", "labelFlush": false, "labelOverlap": false, "labelBound": false},
 "legend": {"labelFont": "Liberation Sans", "labelFontWeight": "bold", "labelFontSize": 13, "labelColor": "black", "strokeColor": "black", "fillColor": "white", "padding": 5, "labelLimit": 400},
 "title": {"font": "Liberation Sans", "fontSize": 14, "fontWeight": "bold", "color": "black", "anchor": "start", "frame": "group", "offset": 0, "baseline": "middle"}
}
}
